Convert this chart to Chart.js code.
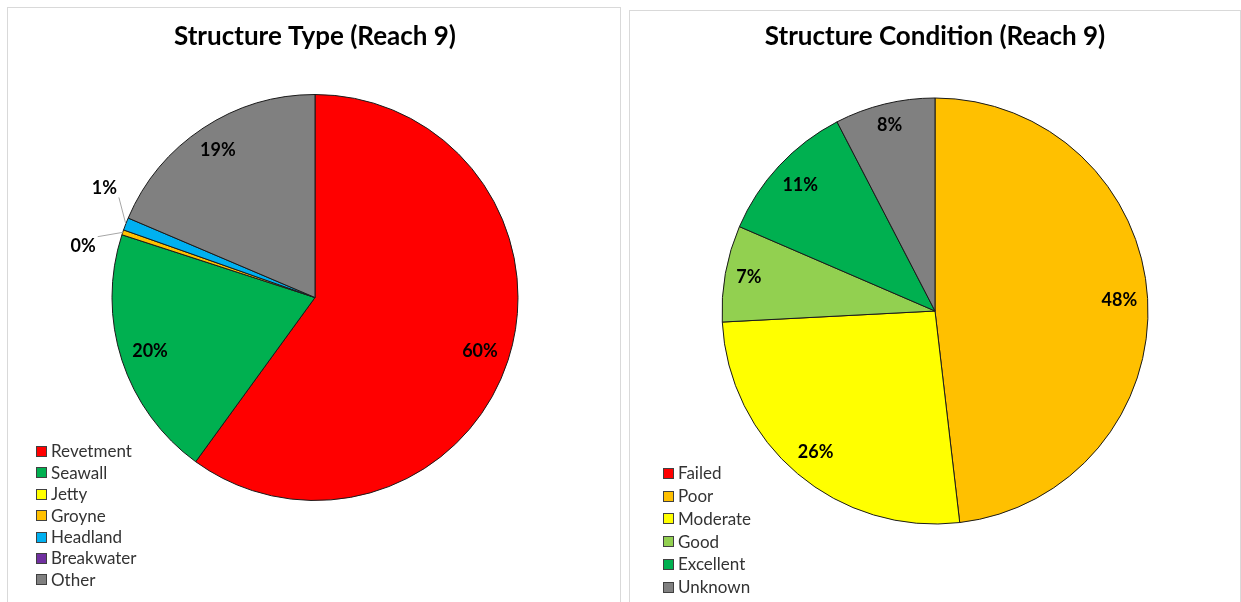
<!DOCTYPE html>
<html><head><meta charset="utf-8">
<script src="https://cdn.jsdelivr.net/npm/chart.js@4"></script>
<style>
html,body{margin:0;padding:0;background:#fff}
body{width:1241px;height:602px;overflow:hidden;position:relative;font-family:Lato,sans-serif}
.panel{position:absolute;border:1px solid #d9d9d9;background:#fff;box-sizing:border-box}
canvas{position:absolute;top:0}
</style></head><body>
<div class="panel" style="left:7px;top:7px;width:614px;height:610px"></div>
<div class="panel" style="left:629px;top:10px;width:612px;height:610px"></div>
<canvas id="c1" width="624" height="602" style="left:0"></canvas>
<canvas id="c2" width="617" height="602" style="left:624px"></canvas>
<script>
// ---- data ----
const typeTitle = 'Structure Type (Reach 9)';
const typeCategories = ['Revetment', 'Seawall', 'Jetty', 'Groyne', 'Headland', 'Breakwater', 'Other'];
const typeValues = [60.0, 20.0, 0, 0.4, 1.0, 0, 18.6];
const typeColors = ['#FF0000', '#00B050', '#FFFF00', '#FFC000', '#00B0F0', '#7030A0', '#808080'];

const conditionTitle = 'Structure Condition (Reach 9)';
const conditionCategories = ['Failed', 'Poor', 'Moderate', 'Good', 'Excellent', 'Unknown'];
const conditionValues = [0, 48.1, 26.0, 7.3, 10.9, 7.6];
const conditionColors = ['#FF0000', '#FFC000', '#FFFF00', '#92D050', '#00B050', '#808080'];

// ---- decoration plugin: title, legend, percentage labels ----
const pieDecor = {
  id: 'pieDecor',
  afterDraw(chart, args, opts) {
    const ctx = chart.ctx;
    const meta = chart.getDatasetMeta(0);
    const ds = chart.data.datasets[0];
    const total = ds.data.reduce((a, b) => a + b, 0);
    const arcs = meta.data;
    const cx = arcs[0].x, cy = arcs[0].y;
    ctx.save();
    // title
    ctx.fillStyle = '#000';
    ctx.font = opts.titleFont;
    ctx.textAlign = 'center';
    ctx.textBaseline = 'middle';
    ctx.fillText(opts.title, cx, opts.titleY);
    // legend
    ctx.font = opts.legendFont;
    ctx.textAlign = 'left';
    chart.data.labels.forEach((lab, i) => {
      const y = opts.legendY + i * opts.legendSpacing;
      ctx.fillStyle = ds.backgroundColor[i];
      ctx.fillRect(opts.legendX + 0.5, Math.round(y - 5) + 0.5, 10, 10);
      ctx.strokeStyle = '#404040';
      ctx.lineWidth = 1;
      ctx.strokeRect(opts.legendX + 0.5, Math.round(y - 5) + 0.5, 10, 10);
      ctx.fillStyle = '#333333';
      ctx.fillText(lab, opts.legendX + 15, y + 1);
    });
    // percentage labels
    ctx.font = opts.labelFont;
    ctx.textAlign = 'center';
    ctx.fillStyle = '#000';
    const h = 17;
    const small = [];
    arcs.forEach((arc, i) => {
      const v = ds.data[i];
      if (!v) return;
      const pct = v / total * 100;
      const txt = Math.round(pct) + '%';
      const mid = (arc.startAngle + arc.endAngle) / 2;
      const R = arc.outerRadius;
      if (pct < 3) { small.push({ mid, txt, R }); return; }
      const w = ctx.measureText(txt).width;
      const c = Math.cos(mid), s = Math.sin(mid);
      const ext = Math.abs(c) * w / 2 + Math.abs(s) * h / 2;
      const r = R - opts.labelPad - ext;
      ctx.fillText(txt, cx + r * c, cy + r * s);
    });
    if (small.length) {
      const mean = small.reduce((a, b) => a + b.mid, 0) / small.length;
      const step = opts.smallSpread * Math.PI / 180;
      small.forEach((o, k) => {
        const a = mean + (k - (small.length - 1) / 2) * step;
        const r = o.R * opts.smallRadius;
        const lx = cx + r * Math.cos(a), ly = cy + r * Math.sin(a);
        const w = ctx.measureText(o.txt).width;
        const ex = cx + o.R * Math.cos(o.mid), ey = cy + o.R * Math.sin(o.mid);
        const bx0 = lx - w / 2 - 2, bx1 = lx + w / 2 + 2, by0 = ly - h / 2 - 1, by1 = ly + h / 2 + 1;
        const px = Math.min(Math.max(ex, bx0), bx1), py = Math.min(Math.max(ey, by0), by1);
        ctx.strokeStyle = '#a6a6a6';
        ctx.lineWidth = 1;
        ctx.beginPath();
        ctx.moveTo(px, py);
        ctx.lineTo(ex, ey);
        ctx.stroke();
        ctx.fillText(o.txt, lx, ly);
      });
    }
    ctx.restore();
  }
};

function makePie(id, labels, values, colors, radius, padding, decor) {
  return new Chart(document.getElementById(id), {
    type: 'pie',
    data: {
      labels: labels,
      datasets: [{ data: values, backgroundColor: colors, borderColor: '#1a1a1a', borderWidth: 1 }]
    },
    options: {
      responsive: false,
      animation: false,
      events: [],
      radius: radius,
      layout: { padding: padding },
      plugins: {
        legend: { display: false },
        title: { display: false },
        tooltip: { enabled: false },
        pieDecor: decor
      }
    },
    plugins: [pieDecor]
  });
}

makePie('c1', typeCategories, typeValues, typeColors, 203,
  { left: 10, right: 4, top: 60, bottom: 67 },
  { title: typeTitle, titleY: 37, titleFont: 'bold 26px Lato', legendFont: '17px Lato',
    legendX: 36, legendY: 451, legendSpacing: 21.4, labelFont: 'bold 18px Lato',
    labelPad: 10, smallRadius: 1.17, smallSpread: 15 });

makePie('c2', conditionCategories, conditionValues, conditionColors, 213,
  { left: 10, right: 5, top: 70, bottom: 50 },
  { title: conditionTitle, titleY: 37, titleFont: 'bold 26px Lato', legendFont: '17px Lato',
    legendX: 39, legendY: 473, legendSpacing: 22.7, labelFont: 'bold 18px Lato',
    labelPad: 10, smallRadius: 1.17, smallSpread: 15 });
</script>
</body></html>
